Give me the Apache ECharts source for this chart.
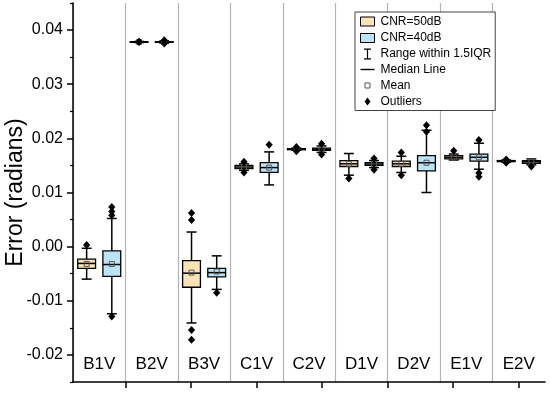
<!DOCTYPE html>
<html><head><meta charset="utf-8">
<script src="https://cdn.jsdelivr.net/npm/echarts@6/dist/echarts.min.js"></script>
<style>html,body{margin:0;padding:0;background:#fff}#c{width:550px;height:395px}</style>
</head><body><div id="c"></div>
<script>
const categories = ['B1V','B2V','B3V','C1V','C2V','D1V','D2V','E1V','E2V'];
// each row: [low whisker, Q1, median, Q3, high whisker, mean]
const box50 = [
  [-0.0060, -0.0040, -0.0031, -0.0023, -0.0003, -0.0032],
  [0.0377, 0.03775, 0.0378, 0.03785, 0.0379, 0.0378],
  [-0.0141, -0.0075, -0.0049, -0.0026, 0.0027, -0.0048],
  [0.0141, 0.0144, 0.0147, 0.0150, 0.0153, 0.0147],
  [0.0178, 0.0179, 0.0180, 0.0181, 0.0182, 0.0180],
  [0.0132, 0.0148, 0.0153, 0.0159, 0.0172, 0.0153],
  [0.0137, 0.0148, 0.0153, 0.0158, 0.0167, 0.0153],
  [0.0160, 0.0162, 0.0165, 0.0168, 0.0171, 0.0165],
  [0.0156, 0.0157, 0.0158, 0.0159, 0.0160, 0.0158]
];
const box40 = [
  [-0.0124, -0.0055, -0.0033, -0.0008, 0.0052, -0.0032],
  [0.0376, 0.03775, 0.0378, 0.03785, 0.0380, 0.0378],
  [-0.0079, -0.0056, -0.0048, -0.0040, -0.0017, -0.0046],
  [0.0114, 0.0137, 0.0146, 0.0155, 0.0175, 0.0146],
  [0.0174, 0.0178, 0.0180, 0.0182, 0.0186, 0.0180],
  [0.0146, 0.0150, 0.01525, 0.0155, 0.0159, 0.01525],
  [0.0100, 0.0140, 0.0155, 0.0168, 0.0215, 0.0155],
  [0.0143, 0.0158, 0.0165, 0.0171, 0.0191, 0.0165],
  [0.0151, 0.0154, 0.0157, 0.0159, 0.0162, 0.0157]
];
// outliers per category
const outliers50 = [
  [0.0003],
  [0.03782, 0.03778],
  [0.0049, 0.0062, -0.0154, -0.0172],
  [0.0157, 0.0137],
  [0.0184, 0.0176],
  [0.0126],
  [0.0174, 0.0132],
  [0.0177],
  [0.0161, 0.0155]
];
const outliers40 = [
  [-0.0129, 0.0058, 0.0065, 0.0073],
  [0.0381, 0.0375],
  [-0.0085],
  [0.0188],
  [0.0190, 0.0170],
  [0.0163, 0.0142],
  [0.0224, 0.0212],
  [0.0197, 0.0136, 0.0129],
  [0.0148]
];
const yTickValues = [-0.02, -0.01, 0.00, 0.01, 0.02, 0.03, 0.04];
const yMinorValues = [-0.025, -0.015, -0.005, 0.005, 0.015, 0.025, 0.035, 0.045];
const xTickValues = [4, 9, 14, 19, 24, 29, 34];

const TAN = '#F8E3B6', BLUE = '#BCE4F8';
const FONT = 'Arial, "Liberation Sans", sans-serif';

function boxData(rows){ return rows.map((r,i)=>[i].concat(r)); }
function outData(list){ const d=[]; list.forEach((vals,i)=>vals.forEach(v=>d.push([i,v]))); return d; }

function boxRender(off){
  return function(params, api){
    const i = api.value(0);
    const band = api.size([1,0])[0];
    const cx = api.coord([i,0])[0] + off*band;
    const Y = k => api.coord([i, api.value(k)])[1];
    const lo=Y(1), q1=Y(2), md=Y(3), q3=Y(4), hi=Y(5), mn=Y(6);
    const bw = band*0.34, cw = band*0.19;
    const ls = {stroke:'#000', lineWidth:1.5};
    return {type:'group', children:[
      {type:'line', shape:{x1:cx,y1:hi,x2:cx,y2:q3}, style:ls},
      {type:'line', shape:{x1:cx,y1:q1,x2:cx,y2:lo}, style:ls},
      {type:'line', shape:{x1:cx-cw/2,y1:hi,x2:cx+cw/2,y2:hi}, style:ls},
      {type:'line', shape:{x1:cx-cw/2,y1:lo,x2:cx+cw/2,y2:lo}, style:ls},
      {type:'rect', shape:{x:cx-bw/2,y:q3,width:bw,height:Math.max(q1-q3,0.5)}, style:{fill:api.visual('color'), stroke:'#000', lineWidth:1.3}},
      {type:'line', shape:{x1:cx-bw/2,y1:md,x2:cx+bw/2,y2:md}, style:ls},
      {type:'rect', shape:{x:cx-2.5,y:mn-2.5,width:5,height:5}, style:{fill:'none', stroke:'#555', lineWidth:1}}
    ]};
  };
}
function outRender(off){
  return function(params, api){
    const i = api.value(0);
    const band = api.size([1,0])[0];
    const p = api.coord([i, api.value(1)]);
    const cx = p[0] + off*band, cy = p[1];
    return {type:'polygon', shape:{points:[[cx,cy-4],[cx+3.6,cy],[cx,cy+4],[cx-3.6,cy]]}, style:{fill:'#000'}};
  };
}
const OFF = 0.24;
const chart = echarts.init(document.getElementById('c'), null, {renderer:'canvas'});
const emptyRender = function(){ return null; };
chart.setOption({
  animation:false,
  textStyle:{fontFamily:FONT},
  grid:{left:73, right:5, top:3, bottom:13, containLabel:false, outerBoundsMode:'none'},
  legend:{
    orient:'vertical', left:355, top:12, padding:[3,4,3,4],
    itemWidth:16, itemHeight:12, itemGap:3.5, selectedMode:false,
    borderColor:'#444', borderWidth:1, backgroundColor:'#fff',
    textStyle:{fontSize:12, color:'#000', fontFamily:FONT},
    data:[
      {name:'CNR=50dB', icon:'path://M0,0M1,1.5H15V10.5H1Z M16,12', itemStyle:{color:TAN, borderColor:'#000', borderWidth:1}},
      {name:'CNR=40dB', icon:'path://M0,0M1,1.5H15V10.5H1Z M16,12', itemStyle:{color:BLUE, borderColor:'#000', borderWidth:1}},
      {name:'Range within 1.5IQR', icon:'path://M0,0 M4.5,0.5H11.5V1.8H8.6V10.2H11.5V11.5H4.5V10.2H7.4V1.8H4.5Z M16,12', itemStyle:{color:'#000', borderWidth:0}},
      {name:'Median Line', icon:'path://M0,0 M1,5.3H15V6.7H1Z M16,12', itemStyle:{color:'#000', borderWidth:0}},
      {name:'Mean', icon:'path://M0,0 M5.5,3.5H10.5V8.5H5.5Z M16,12', itemStyle:{color:'#fff', borderColor:'#555', borderWidth:1}},
      {name:'Outliers', icon:'path://M0,0 M8,2L11,6L8,10L5,6Z M16,12', itemStyle:{color:'#000', borderWidth:0}}
    ]
  },
  xAxis:[
    {type:'category', data:categories, position:'bottom',
     axisLine:{show:false, onZero:false}, axisTick:{show:false},
     axisLabel:{inside:true, margin:9, fontSize:17, color:'#000', interval:0},
     splitLine:{show:true, interval:0, showMaxLine:false, lineStyle:{color:'#b3b3b3', width:1.2}}},
    {type:'value', min:0, max:36, position:'bottom',
     axisLine:{show:true, onZero:false, lineStyle:{color:'#000', width:1.5}},
     axisTick:{show:true, length:6, customValues:xTickValues, lineStyle:{color:'#000', width:1.5}},
     axisLabel:{show:false}, splitLine:{show:false}}
  ],
  yAxis:[
    {type:'value', min:-0.025, max:0.045, position:'left',
     name:'Error (radians)', nameLocation:'middle', nameGap:46, nameMoveOverlap:false,
     nameTextStyle:{fontSize:23, color:'#000', fontFamily:FONT},
     axisLine:{show:true, onZero:false, lineStyle:{color:'#000', width:1.5}},
     axisTick:{show:true, length:6, customValues:yTickValues, lineStyle:{color:'#000', width:1.5}},
     axisLabel:{customValues:yTickValues, formatter:v=>v.toFixed(2), fontSize:16, color:'#000', margin:10},
     splitLine:{show:false}},
    {type:'value', min:-0.025, max:0.045, position:'left',
     axisLine:{show:false, onZero:false},
     axisTick:{show:true, length:3, customValues:yMinorValues, lineStyle:{color:'#000', width:1.2}},
     axisLabel:{show:false}, splitLine:{show:false}}
  ],
  series:[
    {name:'CNR=50dB', type:'custom', color:TAN, renderItem:boxRender(-OFF), data:boxData(box50), encode:{x:0, y:[1,2,3,4,5]}, z:3},
    {name:'CNR=40dB', type:'custom', color:BLUE, renderItem:boxRender(OFF), data:boxData(box40), encode:{x:0, y:[1,2,3,4,5]}, z:3},
    {name:'Outliers', type:'custom', color:'#000', renderItem:outRender(-OFF), data:outData(outliers50), encode:{x:0, y:1}, z:4},
    {name:'Outliers', type:'custom', color:'#000', renderItem:outRender(OFF), data:outData(outliers40), encode:{x:0, y:1}, z:4},
    {name:'Range within 1.5IQR', type:'custom', renderItem:emptyRender, data:[]},
    {name:'Median Line', type:'custom', renderItem:emptyRender, data:[]},
    {name:'Mean', type:'custom', renderItem:emptyRender, data:[]}
  ]
});
</script></body></html>
